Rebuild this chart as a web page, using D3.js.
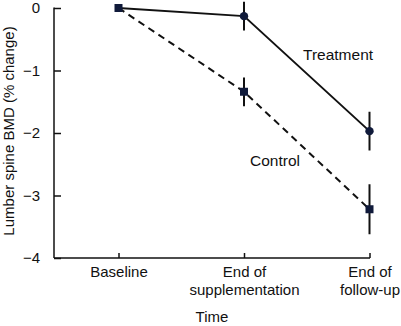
<!DOCTYPE html>
<html><head><meta charset="utf-8">
<script src="https://cdn.jsdelivr.net/npm/d3@7"></script>
<style>body{margin:0;background:#fff}svg{display:block;font-family:"Liberation Sans",Arial,sans-serif}</style>
</head><body>
<svg id="c" width="401" height="326"></svg>
<script>
const categories = ["Baseline", "End of\nsupplementation", "End of\nfollow-up"];
const treatment = [0, -0.13, -1.97];
const treatmentErr = [0, 0.23, 0.31];
const control = [0, -1.34, -3.22];
const controlErr = [0, 0.23, 0.40];
const yTicks = [0, -1, -2, -3, -4];

const svg = d3.select("#c");
const x = d3.scalePoint().domain(categories).range([118.5, 369.5]);
const y = d3.scaleLinear().domain([-4, 0]).range([258, 8]);
const col = "#111";
const fs = "15px";

// axes
const yAxis = svg.append("g").attr("transform", "translate(54,0)")
  .call(d3.axisLeft(y).tickValues(yTicks).tickSizeInner(-7).tickSizeOuter(0).tickPadding(14)
    .tickFormat(d => d === 0 ? "0" : "\u2212" + Math.abs(d)));
yAxis.select(".domain").attr("stroke", col).attr("stroke-width", 1.5).attr("d", "M0,7.5V258");
yAxis.selectAll(".tick line").attr("stroke", col).attr("stroke-width", 1.5);
yAxis.selectAll("text").attr("font-size", fs).attr("fill", col).attr("font-family", "Liberation Sans, Arial, sans-serif");

const xAxis = svg.append("g").attr("transform", "translate(0,258)")
  .call(d3.axisBottom(x).tickSizeInner(-5).tickSizeOuter(0).tickFormat(""));
xAxis.select(".domain").attr("stroke", col).attr("stroke-width", 1.5).attr("d", "M54,0H370");
xAxis.selectAll(".tick line").attr("stroke", col).attr("stroke-width", 1.5);
xAxis.selectAll(".tick").each(function(d) {
  const lines = d.split("\n");
  const t = d3.select(this).append("text").attr("fill", col).attr("text-anchor", "middle")
    .attr("font-size", fs).attr("font-family", "Liberation Sans, Arial, sans-serif");
  lines.forEach((l, i) => t.append("tspan").attr("x", 0).attr("y", 19 + i * 18).text(l));
});

svg.append("text").attr("x", 212).attr("y", 322).attr("text-anchor", "middle")
  .attr("font-size", fs).attr("fill", col).text("Time");
svg.append("text").attr("transform", "translate(14,131) rotate(-90)").attr("text-anchor", "middle")
  .attr("font-size", fs).attr("fill", col).text("Lumber spine BMD (% change)");

const line = d3.line().x((d, i) => x(categories[i])).y(d => y(d));

// control
svg.append("path").datum(control).attr("d", line).attr("fill", "none")
  .attr("stroke", col).attr("stroke-width", 2).attr("stroke-dasharray", "7,5");
// treatment
svg.append("path").datum(treatment).attr("d", line).attr("fill", "none")
  .attr("stroke", col).attr("stroke-width", 2);

function errBars(vals, errs) {
  svg.append("g").selectAll("line").data(vals.map((v, i) => ({v, e: errs[i], c: categories[i]})).filter(d => d.e > 0))
    .join("line").attr("x1", d => x(d.c)).attr("x2", d => x(d.c))
    .attr("y1", d => y(d.v + d.e)).attr("y2", d => y(d.v - d.e))
    .attr("stroke", col).attr("stroke-width", 2);
}
errBars(treatment, treatmentErr);
errBars(control, controlErr);

// markers
svg.append("g").selectAll("circle").data(treatment.slice(1))
  .join("circle").attr("cx", (d, i) => x(categories[i + 1])).attr("cy", d => y(d)).attr("r", 4.2)
  .attr("fill", "#101a3a");
svg.append("g").selectAll("rect").data(control)
  .join("rect").attr("x", (d, i) => x(categories[i]) - 4).attr("y", d => y(d) - 4)
  .attr("width", 8).attr("height", 8).attr("fill", "#101a3a");

svg.append("text").attr("x", 303).attr("y", 60).attr("font-size", "15.5px").attr("fill", col).text("Treatment");
svg.append("text").attr("x", 250).attr("y", 166).attr("font-size", "15.5px").attr("fill", col).text("Control");
</script>
</body></html>
